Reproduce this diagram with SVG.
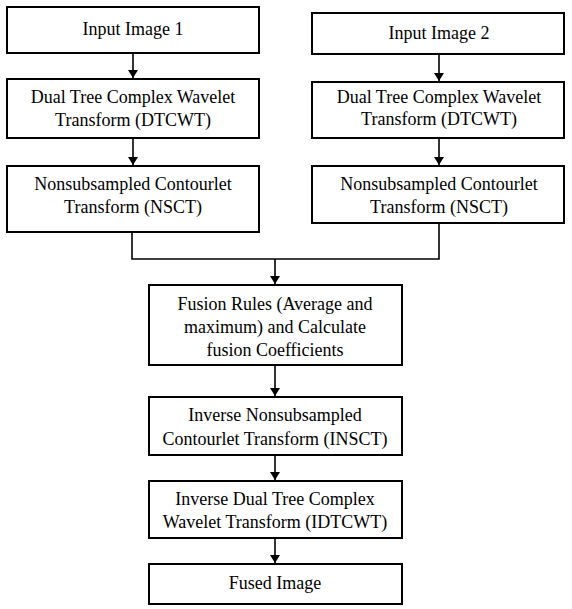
<svg xmlns="http://www.w3.org/2000/svg" width="572" height="609" viewBox="0 0 572 609">
<style>
.box{fill:#fff;stroke:#000;stroke-width:2}
text{font-family:"Liberation Serif","Times New Roman",serif;font-size:18px;fill:#000;text-anchor:middle}
.c{fill:none;stroke:#000;stroke-width:1.6}
</style>
<defs>
<marker id="ah" markerWidth="10" markerHeight="10" refX="8" refY="5" orient="auto" markerUnits="userSpaceOnUse">
<path d="M0,0 L8,5 L0,10 Z" fill="#000"/>
</marker>
</defs>
<rect width="572" height="609" fill="#fff"/>
<g id="connectors">
<line class="c" x1="133" y1="53" x2="133" y2="78" marker-end="url(#ah)"/>
<line class="c" x1="133" y1="138" x2="133" y2="165" marker-end="url(#ah)"/>
<line class="c" x1="439" y1="54" x2="439" y2="81" marker-end="url(#ah)"/>
<line class="c" x1="439" y1="138" x2="439" y2="165" marker-end="url(#ah)"/>
<polyline class="c" points="132,232 132,259 439,259 439,223"/>
<line class="c" x1="275" y1="259" x2="275" y2="284" marker-end="url(#ah)"/>
<line class="c" x1="275" y1="365" x2="275" y2="396" marker-end="url(#ah)"/>
<line class="c" x1="275" y1="455" x2="275" y2="480" marker-end="url(#ah)"/>
<line class="c" x1="275" y1="538" x2="275" y2="563" marker-end="url(#ah)"/>
</g>
<g id="input1"><rect class="box" x="7" y="7" width="252" height="46"/><text x="133" y="35">Input Image 1</text></g>
<g id="dtcwt1"><rect class="box" x="7" y="79" width="252" height="59"/><text x="133" y="103">Dual Tree Complex Wavelet</text><text x="133" y="126">Transform (DTCWT)</text></g>
<g id="nsct1"><rect class="box" x="7" y="166" width="252" height="66"/><text x="133" y="190">Nonsubsampled Contourlet</text><text x="133" y="213">Transform (NSCT)</text></g>
<g id="input2"><rect class="box" x="312" y="13" width="252" height="41"/><text x="439" y="39">Input Image 2</text></g>
<g id="dtcwt2"><rect class="box" x="312" y="82" width="252" height="56"/><text x="439" y="103">Dual Tree Complex Wavelet</text><text x="439" y="125">Transform (DTCWT)</text></g>
<g id="nsct2"><rect class="box" x="312" y="166" width="252" height="57"/><text x="439" y="190">Nonsubsampled Contourlet</text><text x="439" y="213">Transform (NSCT)</text></g>
<g id="fusion"><rect class="box" x="149" y="285" width="253" height="80"/><text x="275" y="310">Fusion Rules (Average and</text><text x="275" y="333">maximum) and Calculate</text><text x="275" y="356">fusion Coefficients</text></g>
<g id="insct"><rect class="box" x="149" y="397" width="253" height="58"/><text x="275" y="421">Inverse Nonsubsampled</text><text x="275" y="445">Contourlet Transform (INSCT)</text></g>
<g id="idtcwt"><rect class="box" x="149" y="481" width="253" height="57"/><text x="275" y="505">Inverse Dual Tree Complex</text><text x="275" y="528">Wavelet Transform (IDTCWT)</text></g>
<g id="fused"><rect class="box" x="149" y="564" width="253" height="40"/><text x="275" y="589">Fused Image</text></g>
</svg>
